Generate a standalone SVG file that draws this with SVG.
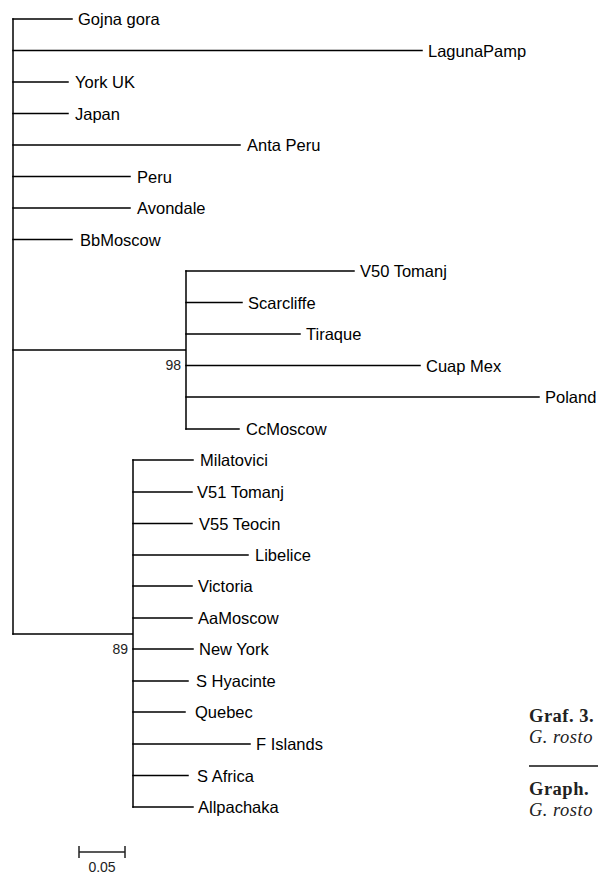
<svg xmlns="http://www.w3.org/2000/svg" width="598" height="874" viewBox="0 0 598 874">
<style>
.e{stroke:#000;stroke-width:1.5;fill:none;stroke-linecap:square}
.t{font-family:"Liberation Sans",Arial,sans-serif;font-size:16.5px;fill:#000}
.b{font-family:"Liberation Sans",Arial,sans-serif;font-size:14px;fill:#222}
.cb{font-family:"Liberation Serif","Times New Roman",serif;font-size:18.5px;font-weight:bold;fill:#222;letter-spacing:0.5px}
.ci{font-family:"Liberation Serif","Times New Roman",serif;font-size:18.5px;font-style:italic;fill:#222;letter-spacing:0.5px}
</style>
<rect width="598" height="874" fill="#fff"/>
<g id="connectors">
<path class="e" d="M13,19V634"/>
<path class="e" d="M13,19H72M13,50.5H422M13,82H68M13,113.5H68M13,145H240M13,176.5H130M13,208H130M13,239.5H72"/>
<path class="e" d="M13,350H186M186,271V429"/>
<path class="e" d="M186,271H354M186,302.5H242M186,334H300M186,365.5H420M186,397H539M186,429H239"/>
<path class="e" d="M13,634H133M133,460V807"/>
<path class="e" d="M133,460H193M133,492H192M133,523.5H192M133,555H248M133,586H192M133,618H192M133,649H193M133,681H188M133,712H185M133,744H250M133,775.5H188M133,807H193"/>
</g>
<g id="n-gojna"><text class="t" x="78" y="25">Gojna gora</text></g>
<g id="n-laguna"><text class="t" x="428" y="56.5">LagunaPamp</text></g>
<g id="n-york"><text class="t" x="75" y="88">York UK</text></g>
<g id="n-japan"><text class="t" x="75" y="119.5">Japan</text></g>
<g id="n-anta"><text class="t" x="247" y="151">Anta Peru</text></g>
<g id="n-peru"><text class="t" x="137" y="182.5">Peru</text></g>
<g id="n-avondale"><text class="t" x="137" y="214">Avondale</text></g>
<g id="n-bbmoscow"><text class="t" x="80" y="245.5">BbMoscow</text></g>
<g id="n-v50"><text class="t" x="360" y="277">V50 Tomanj</text></g>
<g id="n-scarcliffe"><text class="t" x="248" y="308.5">Scarcliffe</text></g>
<g id="n-tiraque"><text class="t" x="306" y="340">Tiraque</text></g>
<g id="n-cuap"><text class="t" x="426" y="371.5">Cuap Mex</text></g>
<g id="n-poland"><text class="t" x="545" y="403">Poland</text></g>
<g id="n-ccmoscow"><text class="t" x="246" y="435">CcMoscow</text></g>
<g id="n-98"><text class="b" x="181" y="370" text-anchor="end">98</text></g>
<g id="n-milatovici"><text class="t" x="200" y="466">Milatovici</text></g>
<g id="n-v51"><text class="t" x="197" y="498">V51 Tomanj</text></g>
<g id="n-v55"><text class="t" x="199" y="529.5">V55 Teocin</text></g>
<g id="n-libelice"><text class="t" x="255" y="561">Libelice</text></g>
<g id="n-victoria"><text class="t" x="198" y="592">Victoria</text></g>
<g id="n-aamoscow"><text class="t" x="198" y="624">AaMoscow</text></g>
<g id="n-newyork"><text class="t" x="199" y="655">New York</text></g>
<g id="n-shyacinte"><text class="t" x="196" y="687">S Hyacinte</text></g>
<g id="n-quebec"><text class="t" x="195" y="718">Quebec</text></g>
<g id="n-fislands"><text class="t" x="256" y="750">F Islands</text></g>
<g id="n-safrica"><text class="t" x="197" y="781.5">S Africa</text></g>
<g id="n-allpachaka"><text class="t" x="198" y="813">Allpachaka</text></g>
<g id="n-89"><text class="b" x="128" y="654" text-anchor="end">89</text></g>
<g id="scale">
<path d="M79,852H125M79,846V858M125,846V858" stroke="#222" stroke-width="1.5" fill="none"/>
<text class="b" x="102" y="872" text-anchor="middle">0.05</text>
</g>
<g id="caption">
<text class="cb" x="529" y="722">Graf. 3.</text>
<text class="ci" x="529" y="743">G. rosto</text>
<path d="M529,766H598" stroke="#111" stroke-width="1.5"/>
<text class="cb" x="529" y="795">Graph.</text>
<text class="ci" x="529" y="816">G. rosto</text>
</g>
</svg>
